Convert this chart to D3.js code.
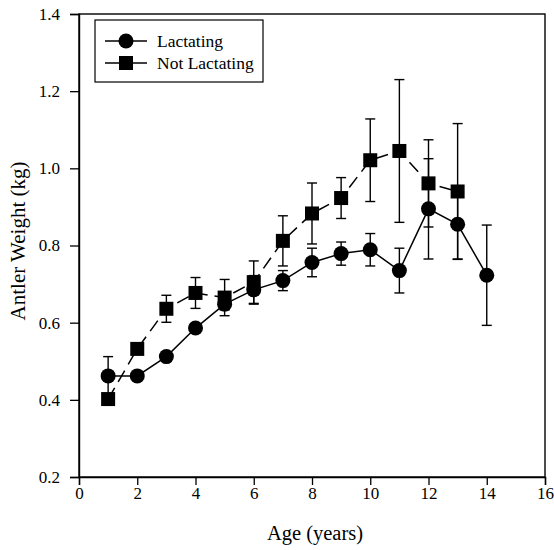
<!DOCTYPE html>
<html><head><meta charset="utf-8">
<script src="https://cdn.jsdelivr.net/npm/d3@7"></script>
<style>body{margin:0;background:#fff}svg{display:block}text{font-family:"Liberation Serif","DejaVu Serif",serif;fill:#000}</style>
</head><body><svg id="c" width="554" height="550"></svg>
<script>
const ages = [1,2,3,4,5,6,7,8,9,10,11,12,13,14];
const lactMean = [0.462,0.462,0.512,0.586,0.648,0.685,0.709,0.756,0.779,0.789,0.735,0.895,0.855,0.723];
const lactErr  = [0.05,0.01,0.012,0.008,0.015,0.037,0.026,0.037,0.03,0.042,0.058,0.13,0.09,0.13];
const nlAges = [1,2,3,4,5,6,7,8,9,10,11,12,13];
const nlMean = [0.402,0.532,0.636,0.677,0.665,0.705,0.812,0.883,0.923,1.021,1.045,0.961,0.94];
const nlErr  = [0.008,0.012,0.035,0.04,0.047,0.055,0.065,0.079,0.053,0.107,0.185,0.113,0.176];
const xTicks = [0,2,4,6,8,10,12,14,16];
const yTicks = [0.2,0.4,0.6,0.8,1.0,1.2,1.4];
const seriesNames = ["Lactating","Not Lactating"];

const svg = d3.select("#c");
const L=79,R=545,T=14,B=477;
const x = d3.scaleLinear().domain([0,16]).range([L,R]);
const y = d3.scaleLinear().domain([0.2,1.4]).range([B,T]);
const FF = '"Liberation Serif","DejaVu Serif",serif';

// frame
svg.append("rect").attr("x",L).attr("y",T).attr("width",R-L).attr("height",B-T)
  .attr("fill","none").attr("stroke","#000").attr("stroke-width",1.4);

const xa = svg.append("g").attr("transform",`translate(0,${B})`)
  .call(d3.axisBottom(x).tickValues(xTicks).tickFormat(d3.format("d")).tickSize(8).tickPadding(2));
const ya = svg.append("g").attr("transform",`translate(${L},0)`)
  .call(d3.axisLeft(y).tickValues(yTicks).tickFormat(d3.format(".1f")).tickSize(9).tickPadding(10));
[xa,ya].forEach(g=>{
  g.attr("font-family",FF).attr("font-size",17);
  g.select(".domain").attr("stroke","#000").attr("stroke-width",1.4);
  g.selectAll(".tick line").attr("stroke","#000").attr("stroke-width",1.3);
  g.selectAll(".tick text").attr("fill","#000");
});

svg.append("text").attr("x",315).attr("y",540).attr("text-anchor","middle")
  .style("font-size","20.5px").text("Age (years)");
svg.append("text").attr("transform",`translate(25,241) rotate(-90)`).attr("text-anchor","middle")
  .style("font-size","21px").text("Antler Weight (kg)");

function drawErr(xs, m, e){
  const g = svg.append("g").attr("stroke","#000").attr("stroke-width",1.4);
  xs.forEach((a,i)=>{
    const cx=x(a), y1=y(m[i]+e[i]), y2=y(m[i]-e[i]);
    g.append("line").attr("x1",cx).attr("x2",cx).attr("y1",y1).attr("y2",y2);
    g.append("line").attr("x1",cx-5).attr("x2",cx+5).attr("y1",y1).attr("y2",y1);
    g.append("line").attr("x1",cx-5).attr("x2",cx+5).attr("y1",y2).attr("y2",y2);
  });
}
drawErr(nlAges,nlMean,nlErr);
drawErr(ages,lactMean,lactErr);

const line = d3.line().x(d=>x(d[0])).y(d=>y(d[1]));
svg.append("path").datum(nlAges.map((a,i)=>[a,nlMean[i]])).attr("d",line)
  .attr("fill","none").attr("stroke","#000").attr("stroke-width",1.5).attr("stroke-dasharray","13,7");
svg.append("path").datum(ages.map((a,i)=>[a,lactMean[i]])).attr("d",line)
  .attr("fill","none").attr("stroke","#000").attr("stroke-width",1.5);

svg.append("g").selectAll("rect").data(nlAges.map((a,i)=>[a,nlMean[i]])).join("rect")
  .attr("x",d=>x(d[0])-7).attr("y",d=>y(d[1])-7).attr("width",14).attr("height",14).attr("fill","#000");
svg.append("g").selectAll("circle").data(ages.map((a,i)=>[a,lactMean[i]])).join("circle")
  .attr("cx",d=>x(d[0])).attr("cy",d=>y(d[1])).attr("r",7.5).attr("fill","#000");

// legend
const lg = svg.append("g");
lg.append("rect").attr("x",95).attr("y",20).attr("width",168).attr("height",62)
  .attr("fill","#fff").attr("stroke","#000").attr("stroke-width",1.2);
seriesNames.forEach((n,i)=>{
  const yy = 41 + i*22;
  lg.append("line").attr("x1",105).attr("x2",147).attr("y1",yy).attr("y2",yy).attr("stroke","#000").attr("stroke-width",1.4);
  if(i===0) lg.append("circle").attr("cx",126).attr("cy",yy).attr("r",7.5).attr("fill","#000");
  else lg.append("rect").attr("x",119).attr("y",yy-7).attr("width",14).attr("height",14).attr("fill","#000");
  lg.append("text").attr("x",157).attr("y",yy+5.5).style("font-size","17.5px").text(n);
});
</script></body></html>
